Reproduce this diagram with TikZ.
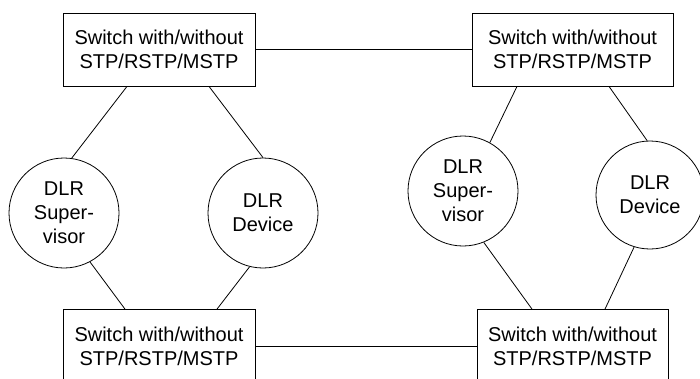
\documentclass[tikz,border=0pt]{standalone}
\usepackage{fontspec}
\setmainfont{Liberation Sans}
\usetikzlibrary{positioning}

\begin{document}
\begin{tikzpicture}[x=1pt, y=-1pt, line width=0.8pt,
    switchbox/.style={draw, rectangle, align=center, inner sep=0pt,
        minimum height=73pt, font=\fontsize{20}{24}\selectfont},
    dlrnode/.style={draw, circle, align=center, inner sep=0pt,
        minimum size=110pt, font=\fontsize{20}{24}\selectfont}]
    % Frame of the picture
    \useasboundingbox (0,0) rectangle (700,378);
    \clip (0,0) rectangle (700,378);

    % Switches
    \node[switchbox, minimum width=192pt] (swTL) at (159,49.5) {Switch with/without\\STP/RSTP/MSTP};
    \node[switchbox, minimum width=201pt] (swTR) at (572.5,49.5) {Switch with/without\\STP/RSTP/MSTP};
    \node[switchbox, minimum width=192pt] (swBL) at (159,346) {Switch with/without\\STP/RSTP/MSTP};
    \node[switchbox, minimum width=191pt] (swBR) at (572.5,346) {Switch with/without\\STP/RSTP/MSTP};

    % DLR ring nodes
    \node[dlrnode] (supL) at (64,213) {DLR\\Super-\\visor};
    \node[dlrnode] (devL) at (263,213) {DLR\\Device};
    \node[dlrnode] (supR) at (463,191) {DLR\\Super-\\visor};
    \node[dlrnode, minimum size=108pt] (devR) at (650,195) {DLR\\Device};

    % Links between switches
    \draw (swTL.east) -- (swTR.west);
    \draw (swBL.east) -- (swBR.west);

    % Left ring
    \draw ([xshift=-32pt]swTL.south) -- (supL.82);
    \draw ([xshift=50pt]swTL.south) -- (devL.90);
    \draw (supL.-62) -- ([xshift=-34pt]swBL.north);
    \draw (devL.-104) -- ([xshift=58pt]swBL.north);

    % Right ring
    \draw ([xshift=-55.5pt]swTR.south) -- (supR.61);
    \draw ([xshift=36.5pt]swTR.south) -- (devR.93);
    \draw (supR.-68) -- ([xshift=-40.5pt]swBR.north);
    \draw (devR.-107) -- ([xshift=32.5pt]swBR.north);
\end{tikzpicture}
\end{document}
